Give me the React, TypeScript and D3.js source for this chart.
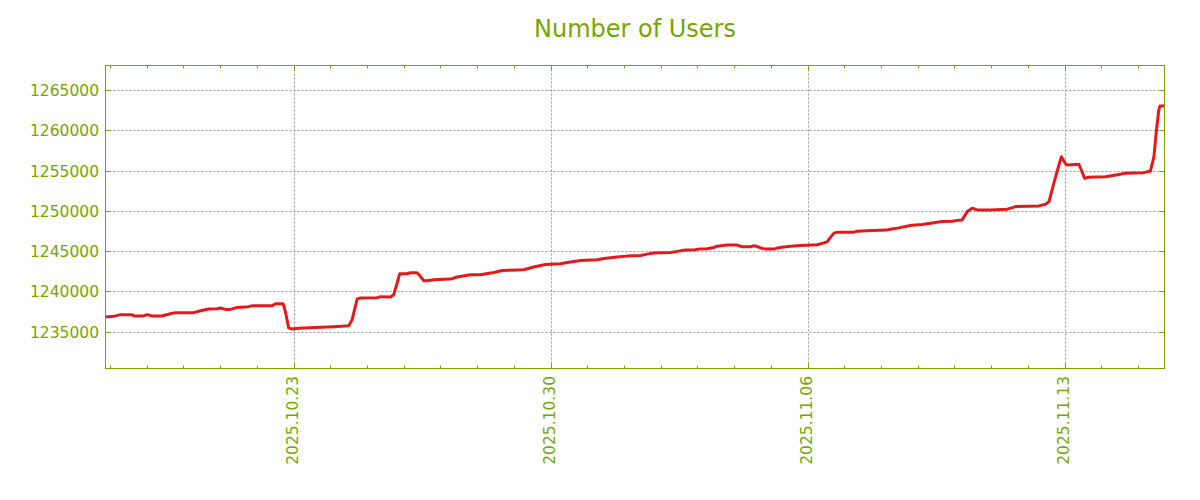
import React from "react";
import * as d3 from "d3";

const times: string[] = [
  "2025-10-17T21:06", "2025-10-18T02:30", "2025-10-18T07:00", "2025-10-18T14:30", "2025-10-18T15:30",
  "2025-10-18T22:00", "2025-10-19T00:20", "2025-10-19T03:40", "2025-10-19T10:00", "2025-10-19T15:30",
  "2025-10-19T18:50", "2025-10-20T06:50", "2025-10-20T11:10", "2025-10-20T16:40", "2025-10-20T22:00",
  "2025-10-21T00:15", "2025-10-21T03:30", "2025-10-21T06:50", "2025-10-21T11:10", "2025-10-21T18:40",
  "2025-10-21T21:00", "2025-10-22T10:00", "2025-10-22T12:10", "2025-10-22T17:10", "2025-10-22T18:40",
  "2025-10-22T20:50", "2025-10-22T23:05", "2025-10-23T03:25", "2025-10-23T14:20", "2025-10-24T02:20",
  "2025-10-24T12:10", "2025-10-24T14:20", "2025-10-24T17:35", "2025-10-24T19:45", "2025-10-25T06:40",
  "2025-10-25T08:50", "2025-10-25T15:20", "2025-10-25T17:30", "2025-10-25T19:45", "2025-10-25T21:25",
  "2025-10-26T02:15", "2025-10-26T04:25", "2025-10-26T08:50", "2025-10-26T11:00", "2025-10-26T13:10",
  "2025-10-26T15:20", "2025-10-26T19:40", "2025-10-27T06:35", "2025-10-27T11:00", "2025-10-27T19:40",
  "2025-10-28T02:10", "2025-10-28T10:55", "2025-10-28T16:25", "2025-10-29T06:30", "2025-10-29T13:00",
  "2025-10-29T20:40", "2025-10-30T06:30", "2025-10-30T13:00", "2025-10-30T19:35", "2025-10-31T06:30",
  "2025-10-31T10:50", "2025-10-31T19:30", "2025-11-01T02:05", "2025-11-01T10:50", "2025-11-01T15:10",
  "2025-11-01T19:30", "2025-11-02T06:25", "2025-11-02T11:50", "2025-11-02T16:10", "2025-11-02T22:40",
  "2025-11-03T00:55", "2025-11-03T06:25", "2025-11-03T10:45", "2025-11-03T12:55", "2025-11-03T19:30",
  "2025-11-04T02:00", "2025-11-04T05:20", "2025-11-04T10:45", "2025-11-04T12:55", "2025-11-04T15:05",
  "2025-11-04T17:20", "2025-11-04T20:30", "2025-11-05T02:00", "2025-11-05T04:10", "2025-11-05T08:30",
  "2025-11-05T12:55", "2025-11-05T19:25", "2025-11-06T06:25", "2025-11-06T10:45", "2025-11-06T12:55",
  "2025-11-06T15:05", "2025-11-06T17:15", "2025-11-06T19:30", "2025-11-07T06:20", "2025-11-07T08:30",
  "2025-11-07T15:00", "2025-11-08T03:00", "2025-11-08T06:15", "2025-11-08T11:40", "2025-11-08T16:05",
  "2025-11-08T20:25", "2025-11-09T03:00", "2025-11-09T07:20", "2025-11-09T11:40", "2025-11-09T16:05",
  "2025-11-09T22:35", "2025-11-10T02:55", "2025-11-10T05:05", "2025-11-10T08:25", "2025-11-10T11:40",
  "2025-11-10T15:00", "2025-11-10T23:35", "2025-11-11T10:35", "2025-11-11T16:00", "2025-11-12T07:15",
  "2025-11-12T11:35", "2025-11-12T13:50", "2025-11-12T18:10", "2025-11-12T21:55", "2025-11-13T00:45",
  "2025-11-13T01:50", "2025-11-13T09:25", "2025-11-13T13:05", "2025-11-13T15:55", "2025-11-14T02:50",
  "2025-11-14T10:30", "2025-11-14T15:55", "2025-11-15T03:50", "2025-11-15T08:10", "2025-11-15T10:25",
  "2025-11-15T12:05", "2025-11-15T13:35", "2025-11-15T14:20", "2025-11-15T15:50", "2025-11-15T17:30",
];

const users: number[] = [
  1236820, 1236900, 1237110, 1237110, 1236950,
  1236950, 1237110, 1236950, 1236950, 1237230,
  1237360, 1237360, 1237600, 1237810, 1237850,
  1237940, 1237760, 1237760, 1238010, 1238100,
  1238220, 1238220, 1238470, 1238470, 1237520,
  1235460, 1235330, 1235410, 1235500, 1235620,
  1235740, 1236490, 1239050, 1239180, 1239210,
  1239340, 1239300, 1239590, 1241040, 1242190,
  1242190, 1242310, 1242310, 1241860, 1241320,
  1241320, 1241450, 1241530, 1241780, 1242070,
  1242070, 1242350, 1242600, 1242690, 1243020,
  1243340, 1243430, 1243640, 1243840, 1243930,
  1244090, 1244260, 1244380, 1244460, 1244630,
  1244760, 1244830, 1245000, 1245130, 1245170,
  1245250, 1245290, 1245450, 1245620, 1245750,
  1245750, 1245540, 1245540, 1245660, 1245580,
  1245380, 1245250, 1245250, 1245380, 1245500,
  1245620, 1245700, 1245790, 1246030, 1246190,
  1246740, 1247240, 1247360, 1247360, 1247480,
  1247520, 1247610, 1247730, 1247890, 1248050,
  1248230, 1248300, 1248430, 1248550, 1248670,
  1248720, 1248850, 1248880, 1249910, 1250330,
  1250120, 1250120, 1250210, 1250530, 1250620,
  1250830, 1251150, 1254250, 1256730, 1255830,
  1255700, 1255790, 1254050, 1254180, 1254250,
  1254500, 1254670, 1254750, 1254960, 1256730,
  1260040, 1262520, 1263020, 1263020, 1263050,
];

const yTicks: number[] = [1235000, 1240000, 1245000, 1250000, 1255000, 1260000, 1265000];
const xTickLabels: string[] = ["2025.10.23", "2025.10.30", "2025.11.06", "2025.11.13"];
const domainStart = "2025-10-17T21:06";
const domainEnd = "2025-11-15T17:20";
const yDomain: [number, number] = [1230420, 1268060];
const title = "Number of Users";

const parse = (s: string) => new Date(s);
const parseLabel = (s: string) => {
  const [y, m, d] = s.split(".").map(Number);
  return new Date(y, m - 1, d);
};

export default function App() {
  const W = 1200, H = 500;
  const left = 105.5, right = 1164.5, top = 65.5, bottom = 368.5;
  const green = "#78a400";
  const x = d3.scaleTime().domain([parse(domainStart), parse(domainEnd)]).range([left, right]);
  const y = d3.scaleLinear().domain(yDomain).range([bottom, top]);
  const data = times.map((t, i) => ({ t: parse(t), v: users[i] }));
  const line = d3.line<{ t: Date; v: number }>().x(d => x(d.t)).y(d => y(d.v));
  const days = d3.timeDay.range(d3.timeDay.ceil(parse(domainStart)), parse(domainEnd));
  const majors = xTickLabels.map(parseLabel);
  const isMajor = (d: Date) => majors.some(m => m.getTime() === d.getTime());
  const font = "'DejaVu Sans', sans-serif";

  return (
    <svg width={W} height={H} style={{ display: "block", position: "absolute", left: 0, top: 0 }}>
      <rect x={0} y={0} width={W} height={H} fill="#fff" />
      <text x={(left + right) / 2} y={37} textAnchor="middle" fill={green} fontFamily={font} fontSize={24}>{title}</text>
      {yTicks.map(v => (
        <line key={"gy" + v} x1={left} x2={right} y1={Math.round(y(v)) + 0.5} y2={Math.round(y(v)) + 0.5}
          stroke="#999" strokeWidth={1} strokeDasharray="2,2" />
      ))}
      {majors.map((d, i) => (
        <line key={"gx" + i} x1={Math.round(x(d)) + 0.5} x2={Math.round(x(d)) + 0.5} y1={top} y2={bottom}
          stroke="#999" strokeWidth={1} strokeDasharray="2,2" />
      ))}
      {days.map((d, i) => {
        const xx = Math.round(x(d)) + 0.5;
        const len = isMajor(d) ? 5 : 3;
        return (
          <g key={"dt" + i}>
            <line x1={xx} x2={xx} y1={top} y2={top + len} stroke={green} strokeWidth={1} />
            <line x1={xx} x2={xx} y1={bottom} y2={bottom - len} stroke={green} strokeWidth={1} />
          </g>
        );
      })}
      {yTicks.map(v => {
        const yy = Math.round(y(v)) + 0.5;
        return (
          <g key={"yt" + v}>
            <line x1={left} x2={left + 5} y1={yy} y2={yy} stroke={green} strokeWidth={1} />
            <line x1={right} x2={right - 5} y1={yy} y2={yy} stroke={green} strokeWidth={1} />
            <text x={99} y={yy + 5.5} textAnchor="end" fill={green} fontFamily={font} fontSize={15.5}>{v}</text>
          </g>
        );
      })}
      {majors.map((d, i) => (
        <text key={"xl" + i} transform={`translate(${x(d) + 4},${376}) rotate(-90)`} textAnchor="end"
          fill={green} fontFamily={font} fontSize={15.5}>{xTickLabels[i]}</text>
      ))}
      <path d={line(data) || ""} fill="none" stroke="#e31a1c" strokeWidth={3} strokeLinejoin="round" />
      <rect x={left} y={top} width={right - left} height={bottom - top} fill="none" stroke={green} strokeWidth={1} />
    </svg>
  );
}
